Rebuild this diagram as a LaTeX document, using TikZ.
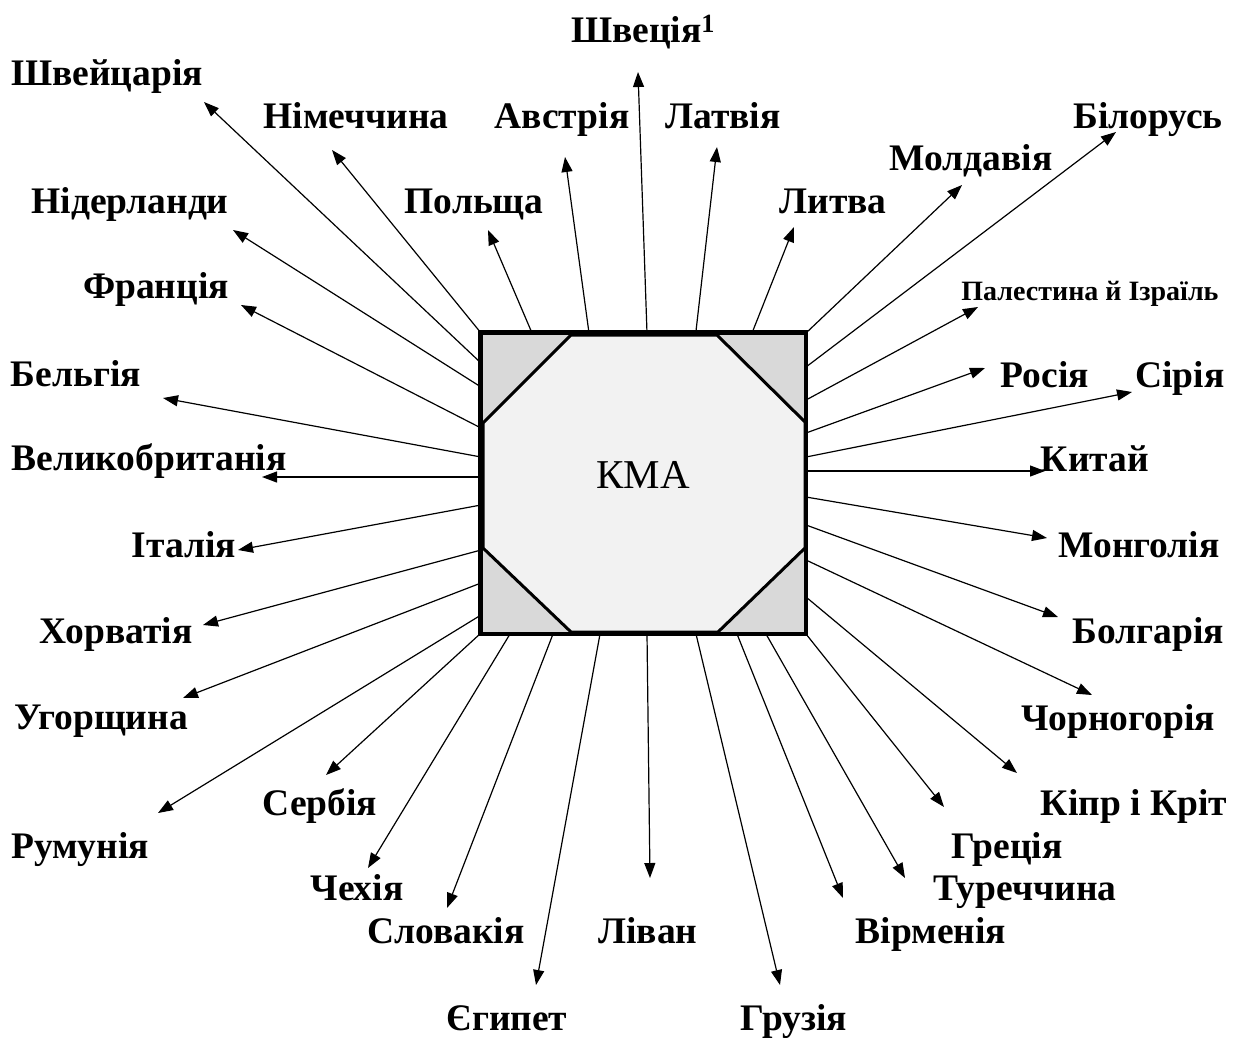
\documentclass[tikz,border=0pt]{standalone}
\usepackage{fontspec}
\setmainfont{Liberation Serif}
\usetikzlibrary{arrows.meta}
\begin{document}
\begin{tikzpicture}[x=1pt,y=-1pt,
  lbl/.style={font=\fontsize{37.5}{41}\selectfont\bfseries, anchor=base, inner sep=0pt},
  smalllbl/.style={font=\fontsize{28}{32}\selectfont\bfseries, anchor=base, inner sep=0pt},
  arr/.style={line width=1.2pt, -{Triangle[length=15pt,width=11pt]}},
  edge/.style={line width=3pt, line join=miter}]
\useasboundingbox (0,0) rectangle (1239,1037);
% start points on the box and arrow tips
\coordinate (s1) at (481,363);  \coordinate (t1) at (204,102);
\coordinate (s2) at (481,333);  \coordinate (t2) at (332,150);
\coordinate (s3) at (532,333);  \coordinate (t3) at (488,230);
\coordinate (s4) at (589,333);  \coordinate (t4) at (565,157);
\coordinate (s5) at (647,333);  \coordinate (t5) at (638,72);
\coordinate (s6) at (696,331);  \coordinate (t6) at (717,147);
\coordinate (s7) at (752,333);  \coordinate (t7) at (794,227);
\coordinate (s8) at (806,333);  \coordinate (t8) at (962,185);
\coordinate (s9) at (806,367);  \coordinate (t9) at (1116,132);
\coordinate (s10) at (806,400); \coordinate (t10) at (978,307);
\coordinate (s11) at (806,433); \coordinate (t11) at (985,368);
\coordinate (s12) at (806,457); \coordinate (t12) at (1132,392);
\coordinate (s13) at (806,471); \coordinate (t13) at (1045,471);
\coordinate (s14) at (806,497); \coordinate (t14) at (1047,538);
\coordinate (s15) at (806,525); \coordinate (t15) at (1058,617);
\coordinate (s16) at (806,560); \coordinate (t16) at (1092,695);
\coordinate (s17) at (806,597); \coordinate (t17) at (1017,773);
\coordinate (s18) at (806,634); \coordinate (t18) at (944,807);
\coordinate (s19) at (766,634); \coordinate (t19) at (905,878);
\coordinate (s20) at (737,634); \coordinate (t20) at (843,898);
\coordinate (s21) at (696,634); \coordinate (t21) at (780,985);
\coordinate (s22) at (647,634); \coordinate (t22) at (650,878);
\coordinate (s23) at (600,634); \coordinate (t23) at (536,985);
\coordinate (s24) at (553,634); \coordinate (t24) at (447,908);
\coordinate (s25) at (510,634); \coordinate (t25) at (368,868);
\coordinate (s26) at (481,633); \coordinate (t26) at (326,775);
\coordinate (s27) at (481,615); \coordinate (t27) at (158,813);
\coordinate (s28) at (481,583); \coordinate (t28) at (183,698);
\coordinate (s29) at (481,550); \coordinate (t29) at (203,625);
\coordinate (s30) at (481,505); \coordinate (t30) at (238,550);
\coordinate (s31) at (481,477); \coordinate (t31) at (262,477);
\coordinate (s32) at (481,457); \coordinate (t32) at (163,398);
\coordinate (s33) at (481,428); \coordinate (t33) at (241,305);
\coordinate (s34) at (481,387); \coordinate (t34) at (233,230);
\foreach \i in {1,...,34} {\draw[arr] (s\i) -- (t\i);}
% central box
\node[draw, edge, fill=black!15, minimum width=324pt, minimum height=300pt, inner sep=0pt] (box) at (643,483) {};
\draw[edge, fill=black!5] (571,335) -- (717,335) -- (805,422) -- (805,548) -- (718,632) -- (571,632) -- (483,548) -- (483,423) -- cycle;
\draw[edge] (box.north west) rectangle (box.south east);
\node[font=\fontsize{41}{45}\selectfont, anchor=base, inner sep=0pt] (kma) at (643,488) {КМА};
% labels
\node[lbl] (l5) at (643,42) {Швеція\textsuperscript{1}};
\node[lbl] (l1) at (107,85) {Швейцарія};
\node[lbl] (l2) at (356,128) {Німеччина};
\node[lbl] (l4) at (562,128) {Австрія};
\node[lbl] (l6) at (723,128) {Латвія};
\node[lbl] (l9) at (1148,128) {Білорусь};
\node[lbl] (l8) at (971,170) {Молдавія};
\node[lbl] (l7) at (833,213) {Литва};
\node[lbl] (l3) at (474,213) {Польща};
\node[lbl] (l34) at (130,213) {Нідерланди};
\node[lbl] (l33) at (156,298) {Франція};
\node[smalllbl] (l10) at (1090,300) {Палестина й Ізраїль};
\node[lbl] (l32) at (76,386) {Бельгія};
\node[lbl] (l11) at (1045,387) {Росія};
\node[lbl] (l12) at (1180,387) {Сірія};
\node[lbl] (l31) at (149,470) {Великобританія};
\node[lbl] (l13) at (1095,471) {Китай};
\node[lbl] (l30) at (184,557) {Італія};
\node[lbl] (l14) at (1139,557) {Монголія};
\node[lbl] (l29) at (116,643) {Хорватія};
\node[lbl] (l15) at (1148,643) {Болгарія};
\node[lbl] (l28) at (101,729) {Угорщина};
\node[lbl] (l16) at (1118,730) {Чорногорія};
\node[lbl] (l26) at (320,815) {Сербія};
\node[lbl] (l17) at (1134,815) {Кіпр і Кріт};
\node[lbl] (l27) at (80,858) {Румунія};
\node[lbl] (l18) at (1007,858) {Греція};
\node[lbl] (l25) at (357,900) {Чехія};
\node[lbl] (l19) at (1025,900) {Туреччина};
\node[lbl] (l24) at (446,943) {Словакія};
\node[lbl] (l22) at (648,943) {Ліван};
\node[lbl] (l20) at (931,943) {Вірменія};
\node[lbl] (l23) at (507,1030) {Єгипет};
\node[lbl] (l21) at (794,1030) {Грузія};
\end{tikzpicture}
\end{document}
